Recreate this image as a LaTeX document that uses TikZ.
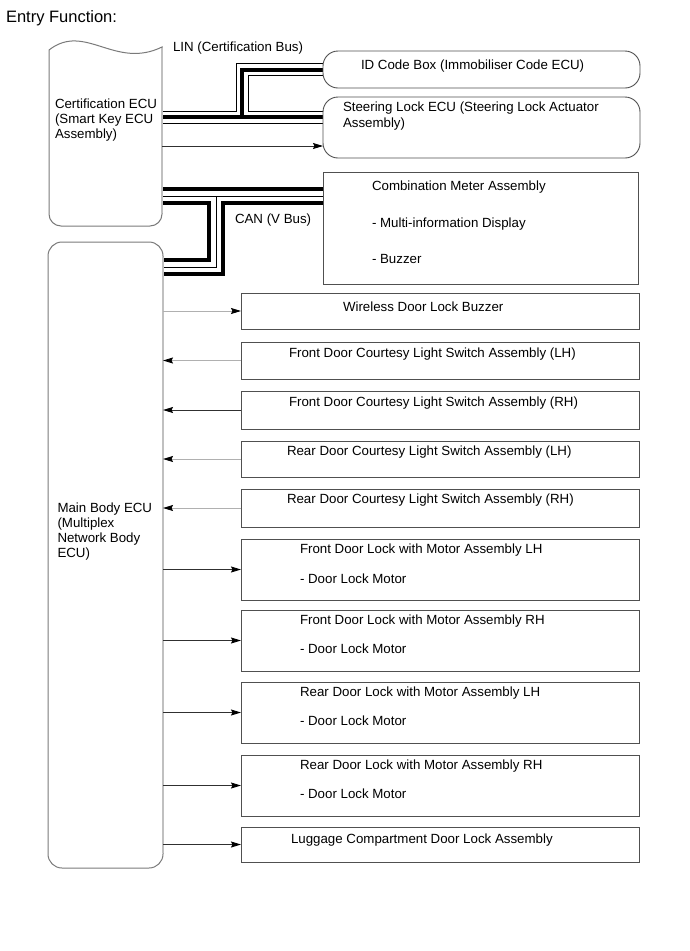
\documentclass[tikz,border=0pt]{standalone}
\usepackage{fontspec}
\setmainfont{Liberation Sans}
\usetikzlibrary{arrows.meta,backgrounds}
\definecolor{boxc}{HTML}{505050}
\definecolor{ecuL}{HTML}{7A7A7A}
\definecolor{ecuR}{HTML}{C0C0C0}
\definecolor{wireg}{HTML}{B0B0B0}
\definecolor{wired}{HTML}{303030}
\begin{document}
\begin{tikzpicture}[x=1pt,y=-1pt,line join=miter,
 bodyfont/.style={font=\fontsize{13.3}{15}\selectfont},
 txt/.style={bodyfont,inner sep=0pt,outer sep=0pt,anchor=base west},
 mtxt/.style={bodyfont,inner sep=0pt,outer sep=0pt,anchor=north west,align=left},
 boxn/.style={draw=boxc,line width=0.9pt,rectangle,inner sep=0pt,outer sep=0pt,anchor=north west,minimum width=398pt},
 rboxn/.style={boxn,rounded corners=15pt,minimum width=317pt},
 eculine/.style={draw=ecuL,line width=1pt},
 ecuedge/.style={draw=ecuR,line width=1.3pt},
 arrd/.style={draw=wired,line width=0.9pt,-{Stealth[length=10pt,width=6pt,inset=1.5pt,color=black]}},
 arrg/.style={arrd,draw=wireg},
]
\useasboundingbox (0,0) rectangle (690,951);

% ECUs
\node[draw=none,minimum width=113pt,minimum height=186pt,inner sep=0pt,outer sep=0pt,anchor=north west] (cert) at (49,40) {};
\node[draw=ecuL,line width=1pt,rounded corners=14pt,minimum width=115pt,minimum height=626pt,inner sep=0pt,outer sep=0pt,anchor=north west] (mb) at (48,242) {};
\draw[eculine] (49,50) .. controls (85,22) and (115,70) .. (162,47) -- (162,200) [rounded corners=12pt] -- (162,226) -- (49,226) -- (49,200) [sharp corners] -- cycle;
\draw[ecuedge] (162,48) -- (162,213);
\draw[ecuedge] ([yshift=-15pt]mb.north east) -- ([yshift=15pt]mb.south east);

% boxes
\node[rboxn,minimum height=37pt] (id) at (323,51) {};
\node[rboxn,minimum height=61pt] (sl) at (323,97) {};
\node[boxn,minimum width=315pt,minimum height=112pt] (cm) at (323,172) {};
\node[boxn,minimum height=36pt] (wl) at (241,293) {};
\node[boxn,minimum height=37pt] (cl) at (241,342) {};
\node[boxn,minimum height=38pt] (cr) at (241,391) {};
\node[boxn,minimum height=36pt] (rl) at (241,441) {};
\node[boxn,minimum height=38pt] (rr) at (241,489) {};
\node[boxn,minimum height=61pt] (fl) at (241,539) {};
\node[boxn,minimum height=61pt] (fr) at (241,610) {};
\node[boxn,minimum height=61pt] (rlk) at (241,682) {};
\node[boxn,minimum height=61pt] (rrk) at (241,755) {};
\node[boxn,minimum height=35pt] (lug) at (241,827) {};

% buses
\coordinate (lj) at (242,117);
\coordinate (cj) at (216,196);
\coordinate (cb) at (216,267);
\begin{scope}[on background layer]
\fill[white] (0,0) rectangle (690,951);
\foreach \w/\c in {13/black,11/white,4/black}{
  \draw[line width=\w pt,draw=\c] (cert.east |- lj) -- (sl.west |- lj) (lj) -- (lj |- id.west) -- (id.west);
}
\foreach \w/\c in {18/black,10/white,1/black}{
  \draw[line width=\w pt,draw=\c] (cert.east |- cj) -- (cm.west |- cj) (cj) -- (cb) -- (mb.east |- cb);
}
\end{scope}

% texts
\node[txt,font=\fontsize{16.5}{19}\selectfont] (title) at (6,22) {Entry Function:};
\node[txt] (lintxt) at (173,51) {LIN (Certification Bus)};
\node[txt] (cantxt) at (235,223) {CAN (V Bus)};
\node[mtxt] (certtxt) at (55,99.3) {Certification ECU\\(Smart Key ECU\\Assembly)};
\node[mtxt] (mbtxt) at (57.5,503.3) {Main Body ECU\\(Multiplex\\Network Body\\ECU)};
\node[txt] (idtxt) at (361,69) {ID Code Box (Immobiliser Code ECU)};
\node[mtxt,font=\fontsize{13.3}{16}\selectfont] (sltxt) at (343,101.8) {Steering Lock ECU (Steering Lock Actuator\\Assembly)};
\node[txt] (cm1) at (372,190) {Combination Meter Assembly};
\node[txt] (cm2) at (372,227) {- Multi-information Display};
\node[txt] (cm3) at (372,263) {- Buzzer};
\node[txt] (wltxt) at (343,311.5) {Wireless Door Lock Buzzer};
\node[txt] (cltxt) at (289,357.5) {Front Door Courtesy Light Switch Assembly (LH)};
\node[txt] (crtxt) at (289,406) {Front Door Courtesy Light Switch Assembly (RH)};
\node[txt] (rltxt) at (287,455) {Rear Door Courtesy Light Switch Assembly (LH)};
\node[txt] (rrtxt) at (287,503) {Rear Door Courtesy Light Switch Assembly (RH)};
\node[txt] (fltxt) at (300,553.5) {Front Door Lock with Motor Assembly LH};
\node[txt] (flm) at (300,583) {- Door Lock Motor};
\node[txt] (frtxt) at (300,624) {Front Door Lock with Motor Assembly RH};
\node[txt] (frm) at (300,653) {- Door Lock Motor};
\node[txt] (rlktxt) at (300,696) {Rear Door Lock with Motor Assembly LH};
\node[txt] (rlkm) at (300,725) {- Door Lock Motor};
\node[txt] (rrktxt) at (300,769) {Rear Door Lock with Motor Assembly RH};
\node[txt] (rrkm) at (300,798) {- Door Lock Motor};
\node[txt] (lugtxt) at (291,843) {Luggage Compartment Door Lock Assembly};

% connectors
\coordinate (sla) at (0,146);
\draw[arrd] (cert.east |- sla) -- (sl.west |- sla);
\draw[arrg] (mb.east |- wl.west) -- (wl.west);
\draw[arrg] (cl.west) -- (mb.east |- cl.west);
\draw[arrd] (cr.west) -- (mb.east |- cr.west);
\draw[arrg] (rl.west) -- (mb.east |- rl.west);
\draw[arrg] (rr.west) -- (mb.east |- rr.west);
\draw[arrd] (mb.east |- fl.west) -- (fl.west);
\draw[arrd] (mb.east |- fr.west) -- (fr.west);
\draw[arrd] (mb.east |- rlk.west) -- (rlk.west);
\draw[arrd] (mb.east |- rrk.west) -- (rrk.west);
\draw[arrd] (mb.east |- lug.west) -- (lug.west);
\end{tikzpicture}
\end{document}
